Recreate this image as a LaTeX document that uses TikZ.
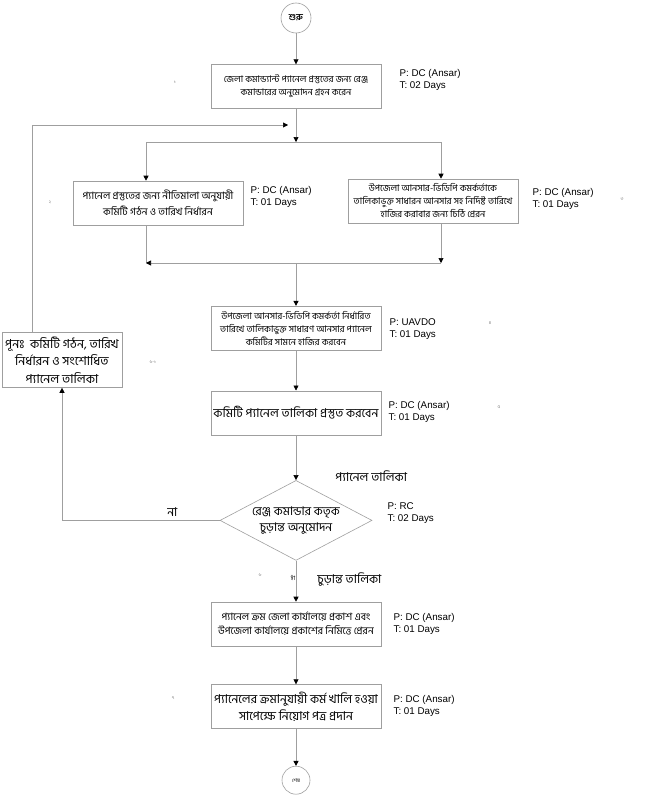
\documentclass[tikz,border=0pt]{standalone}
\usepackage{fontspec}
\setmainfont{Liberation Sans}
\newfontfamily\bangla[Script=Bengali]{Hind Siliguri}
\usetikzlibrary{positioning, shapes.geometric, arrows.meta}
\tikzset{
x=1pt, y=-1pt, % one unit is one pixel of the sheet, y runs down
->, % makes the edges directed
>={Triangle[length=5pt, width=5pt, color=black]}, % black heads on grey lines
every path/.style={draw=gray!75, line width=0.6pt}, % grey connectors
box/.style={rectangle, draw=gray!75, minimum width=170pt, minimum height=44pt, inner sep=2pt, align=center, font=\bangla\fontsize{9.2}{13}\selectfont}, % a step
bigbox/.style={box, font=\bangla\fontsize{12.2}{17}\selectfont}, % a step with large text
term/.style={circle, draw=gray!75, minimum size=30pt, inner sep=0pt}, % start and end
decision/.style={diamond, aspect=1.9, draw=gray!75, minimum width=152pt, minimum height=80pt, inner sep=0pt, align=center, font=\bangla\fontsize{12}{16}\selectfont}, % the approval
plabel/.style={align=left, inner sep=0pt, font=\fontsize{9.8}{12}\selectfont}, % who and how long
stepno/.style={inner sep=0pt, text=gray, font=\bangla\fontsize{4.5}{5}\selectfont}, % step number
lbl/.style={inner sep=0pt, font=\bangla\fontsize{12.2}{14}\selectfont}, % text on a connector
}
\begin{document}
\begin{tikzpicture}
            \useasboundingbox[draw=none] (0,0) rectangle (649,800);

            \node[term, font=\bangla\bfseries\fontsize{9}{10}\selectfont] (start) at (296,18) {শুরু};
            \node[box, below=31pt of start] (b1) {জেলা কমান্ড্যান্ট প্যানেল প্রস্তুতের জন্য রেঞ্জ\\কমান্ডারের অনুমোদন গ্রহন করেন};
            \node[box, font=\bangla\fontsize{10.2}{16}\selectfont] (b2) at (158,203) {প্যানেল প্রস্তুতের জন্য নীতিমালা অনুযায়ী\\কমিটি গঠন ও তারিখ নির্ধারন};
            \node[box] (b3) at (433,201) {উপজেলা আনসার-ভিডিপি কমর্কর্তাকে\\তালিকাভুক্ত সাধারন আনসার সহ নির্দিষ্ট তারিখে\\হাজির করাবার জন্য চিঠি প্রেরন};
            \node[box, below=197pt of b1] (b4) {উপজেলা আনসার-ভিডিপি কমর্কর্তা নির্ধারিত\\তারিখে তালিকাভুক্ত সাধারণ আনসার প্যানেল\\কমিটির সামনে হাজির করবেন};
            \node[bigbox, below=40pt of b4] (b5) {কমিটি প্যানেল তালিকা প্রস্তুত করবেন};
            \node[decision, below=45pt of b5] (dec) {রেঞ্জ কমান্ডার কতৃক\\চুড়ান্ত অনুমোদন};
            \node[box, font=\bangla\fontsize{10.2}{14}\selectfont, below=41pt of dec] (b6) {প্যানেল ক্রম জেলা কার্যালয়ে প্রকাশ এবং\\উপজেলা কার্যালয়ে প্রকাশের নিমিত্তে প্রেরন};
            \node[bigbox, below=38pt of b6] (b7) {প্যানেলের ক্রমানুযায়ী কর্ম খালি হওয়া\\সাপেক্ষে নিয়োগ পত্র প্রদান};
            \node[term, minimum size=28pt, font=\bangla\fontsize{5}{6}\selectfont, below=37pt of b7] (end) {শেষ};
            \node[bigbox, minimum width=120pt, minimum height=55pt, font=\bangla\fontsize{12.4}{17.5}\selectfont] (redo) at (62,360) {পূনঃ~~কমিটি গঠন, তারিখ\\নির্ধারন ও সংশোধিত\\প্যানেল তালিকা};

            \node[plabel, right=18pt of b1.north east, anchor=north west, yshift=-5pt] (p1) {P: DC (Ansar)\\T: 02 Days};
            \node[plabel, right=7pt of b2.north east, anchor=north west, yshift=-5pt] (p2) {P: DC (Ansar)\\T: 01 Days};
            \node[plabel, right=14pt of b3.north east, anchor=north west, yshift=-9pt] (p3) {P: DC (Ansar)\\T: 01 Days};
            \node[plabel, right=8pt of b4.north east, anchor=north west, yshift=-12pt] (p4) {P: UAVDO\\T: 01 Days};
            \node[plabel, right=7pt of b5.north east, anchor=north west, yshift=-11pt] (p5) {P: DC (Ansar)\\T: 01 Days};
            \node[plabel, right=15pt of dec.east, anchor=north west, yshift=18pt] (pd) {P: RC\\T: 02 Days};
            \node[plabel, right=12pt of b6.north east, anchor=north west, yshift=-11pt] (p6) {P: DC (Ansar)\\T: 01 Days};
            \node[plabel, right=12pt of b7.north east, anchor=north west, yshift=-11pt] (p7) {P: DC (Ansar)\\T: 01 Days};

            \node[stepno] (n1) at (175,82) {১};
            \node[stepno] (n2) at (50,202) {২};
            \node[stepno] (n3) at (622,199) {৩};
            \node[stepno] (n4) at (490,323) {৪};
            \node[stepno] (n5) at (499,407) {৫};
            \node[stepno] (n61) at (153,362) {৬-১};
            \node[stepno] (n6) at (260,575) {৬};
            \node[stepno] (n7) at (173,698) {৭};

            \node[lbl, anchor=west, xshift=39pt, yshift=4pt] (panel) at (dec.north) {প্যানেল তালিকা};
            \node[lbl, anchor=west, xshift=21pt, yshift=-19pt] (final) at (dec.south) {চুড়ান্ত তালিকা};

            \coordinate (split) at (296,142);
            \coordinate (sl) at (146,142);
            \coordinate (sr) at (441,142);
            \coordinate (merge) at (296,263);
            \coordinate (loopin) at (288,125);
            \coordinate (lx) at (32,125);

            \draw (start) -- (b1);
            \draw (b1) -- (split);
            \draw[-] (sl) -- (sr);
            \draw (sl) -- (sl |- b2.north);
            \draw (sr) -- (sr |- b3.north);
            \draw[-] (sl |- b2.south) -- (sl |- merge);
            \draw (sr |- b3.south) -- (sr |- merge);
            \draw (sr |- merge) -- (sl |- merge);
            \draw (merge) -- (b4);
            \draw (b4) -- (b5);
            \draw (b5) -- (dec);
            \draw (dec) -- node[pos=0.41, xshift=-3pt, stepno, text=black, font=\bangla\fontsize{6}{7}\selectfont] (yes) {হাঁ} (b6);
            \draw (b6) -- (b7);
            \draw (b7) -- (end);
            \draw (dec.west) -| node[pos=0.15, above=4pt, lbl] (no) {না} (redo.south);
            \draw (lx |- redo.north) |- (loopin);
        \end{tikzpicture}
\end{document}
